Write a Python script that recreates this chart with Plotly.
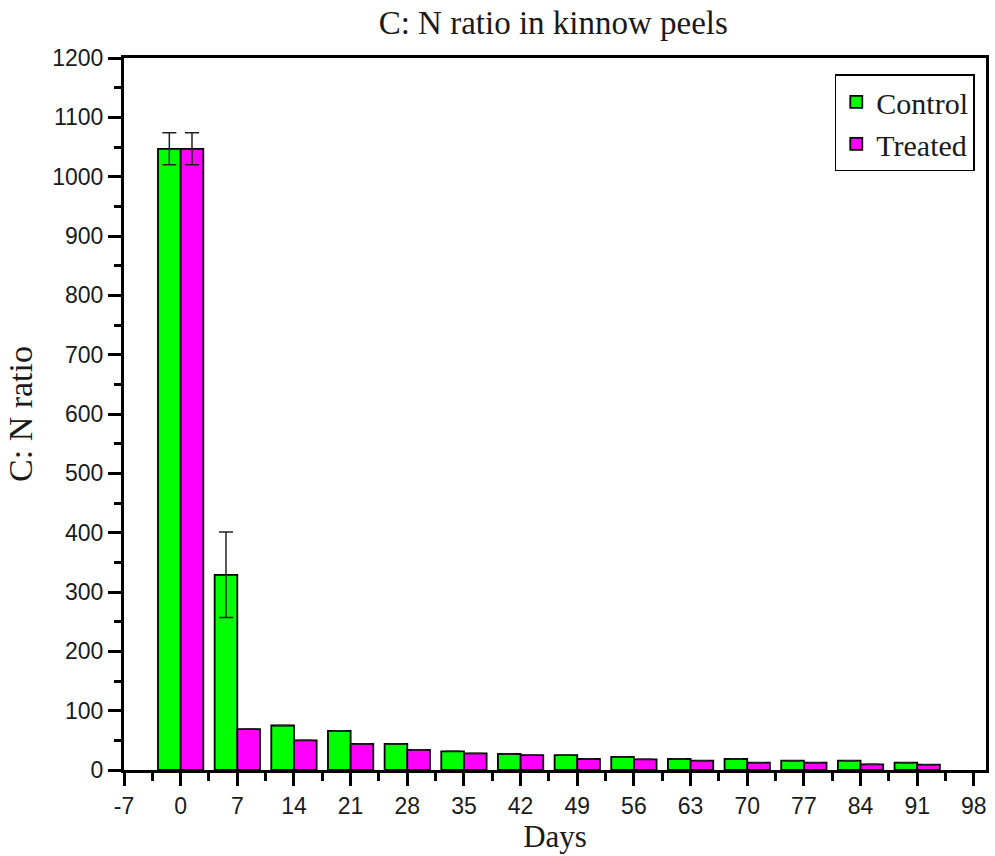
import plotly.graph_objects as go

# Sampling days and C:N ratio of kinnow peels
days = [0, 7, 14, 21, 28, 35, 42, 49, 56, 63, 70, 77, 84, 91]
control = [1047, 329, 75, 66, 44, 31.5, 27, 25, 22, 18.5, 18.5, 15.7, 15.7, 12.3]
treated = [1047, 69, 50, 44, 34, 28, 25, 18.5, 18, 15.7, 12.3, 12.3, 9.6, 9]
control_err = [27, 72, 0, 0, 0, 0, 0, 0, 0, 0, 0, 0, 0, 0]
treated_err = [27, 0, 0, 0, 0, 0, 0, 0, 0, 0, 0, 0, 0, 0]

x_ticks = list(range(-7, 99, 7))
y_ticks = list(range(0, 1201, 100))

serif = "Liberation Serif, Times New Roman, serif"
sans = "Liberation Sans, Arial, sans-serif"
ink = "#1a1a1a"

fig = go.Figure()
fig.add_trace(go.Bar(
    x=days, y=control, name="Control",
    marker=dict(color="#00ff00", line=dict(color="black", width=1.8)),
    error_y=dict(type="data", array=control_err, color="#222", thickness=1.5, width=7),
))
fig.add_trace(go.Bar(
    x=days, y=treated, name="Treated",
    marker=dict(color="#ff00ff", line=dict(color="black", width=1.8)),
    error_y=dict(type="data", array=treated_err, color="#222", thickness=1.5, width=7),
))

fig.update_layout(
    width=995, height=856,
    margin=dict(l=124, r=6, t=58, b=86),
    paper_bgcolor="white", plot_bgcolor="white",
    barmode="group", bargap=0.2, bargroupgap=0,
    title=dict(text="C: N ratio in kinnow peels", x=0.498, xref="paper",
               y=0.974, yref="container", yanchor="middle", xanchor="center",
               font=dict(family=serif, size=33, color=ink)),
    legend=dict(x=0.987, y=0.977, xanchor="right", yanchor="top",
                bordercolor="black", borderwidth=1.5, bgcolor="white",
                font=dict(family=serif, size=30, color=ink),
                tracegroupgap=2, itemwidth=30),
    showlegend=True,
)

fig.update_xaxes(
    range=[-7, 99.5], tickmode="array", tickvals=x_ticks,
    ticktext=[str(v) for v in x_ticks],
    ticks="outside", ticklen=13, tickwidth=2.5, tickcolor="black",
    minor=dict(tickmode="linear", tick0=-3.5, dtick=7, ticks="outside",
               ticklen=8, tickwidth=2.5, tickcolor="black"),
    showline=True, linecolor="black", linewidth=3, mirror=True,
    showgrid=False, zeroline=False,
    tickfont=dict(family=sans, size=23, color=ink),
    title=dict(text="Days", font=dict(family=serif, size=31, color=ink), standoff=8),
)
fig.update_yaxes(
    range=[0, 1200], tickmode="array", tickvals=y_ticks,
    ticks="outside", ticklen=13, tickwidth=2.5, tickcolor="black",
    minor=dict(tickmode="linear", tick0=50, dtick=100, ticks="outside",
               ticklen=7, tickwidth=2.5, tickcolor="black"),
    showline=True, linecolor="black", linewidth=3, mirror=True,
    showgrid=False, zeroline=False,
    tickfont=dict(family=sans, size=23, color=ink),
    title=dict(text="C: N ratio", font=dict(family=serif, size=34, color=ink), standoff=10),
)

fig.write_html("out.html")
